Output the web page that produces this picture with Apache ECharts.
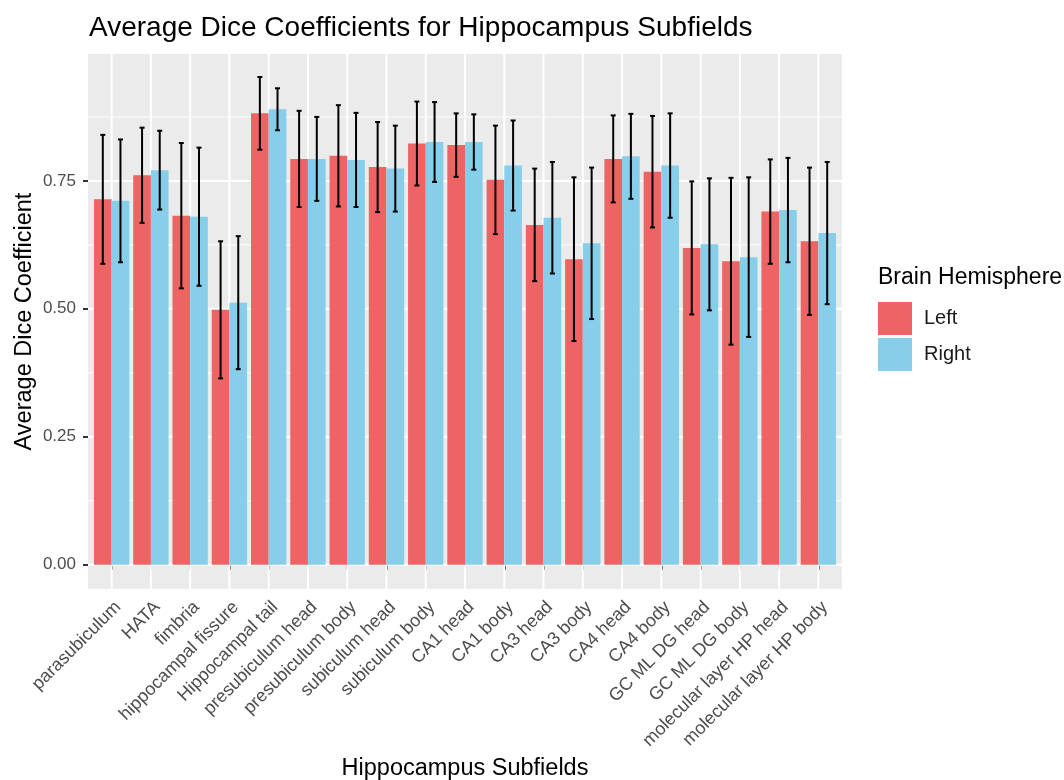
<!DOCTYPE html>
<html>
<head>
<meta charset="utf-8">
<script src="https://cdn.jsdelivr.net/npm/echarts@6/dist/echarts.min.js"></script>
<style>
  html, body { margin: 0; padding: 0; background: #ffffff; }
  #chart { width: 1064px; height: 780px; }
</style>
</head>
<body>
<div id="chart"></div>
<script>
// Hippocampal subfields, in plotting order
const categories = [
  'parasubiculum', 'HATA', 'fimbria', 'hippocampal fissure', 'Hippocampal tail',
  'presubiculum head', 'presubiculum body', 'subiculum head', 'subiculum body',
  'CA1 head', 'CA1 body', 'CA3 head', 'CA3 body', 'CA4 head', 'CA4 body',
  'GC ML DG head', 'GC ML DG body', 'molecular layer HP head', 'molecular layer HP body'
];

// Mean Dice coefficient per hemisphere
const leftMean  = [0.714, 0.761, 0.682, 0.498, 0.882, 0.793, 0.799, 0.777, 0.823, 0.820,
                   0.752, 0.664, 0.597, 0.793, 0.768, 0.619, 0.593, 0.690, 0.632];
const rightMean = [0.711, 0.771, 0.680, 0.512, 0.890, 0.793, 0.791, 0.774, 0.826, 0.826,
                   0.780, 0.678, 0.628, 0.798, 0.780, 0.626, 0.601, 0.693, 0.648];

// Standard deviations (error bars are mean ± sd)
const leftSd  = [0.126, 0.093, 0.142, 0.134, 0.071, 0.094, 0.099, 0.088, 0.082, 0.062,
                 0.106, 0.110, 0.160, 0.085, 0.109, 0.130, 0.163, 0.102, 0.144];
const rightSd = [0.120, 0.077, 0.135, 0.130, 0.041, 0.082, 0.092, 0.084, 0.078, 0.054,
                 0.088, 0.109, 0.148, 0.083, 0.102, 0.129, 0.156, 0.102, 0.139];

const yTicks = [0, 0.25, 0.5, 0.75];
const yMinorGrid = [0.125, 0.375, 0.625, 0.875];

const hemispheres = ['Left', 'Right'];
const colors = { Left: '#EE6363', Right: '#87CEEB' };

const FONT = '"Liberation Sans", Arial, Helvetica, sans-serif';

const chart = echarts.init(document.getElementById('chart'), null, { renderer: 'canvas' });

// ggplot-style discrete axis padding: 0.6 band on each side (category axis gives 0.5)
function extraPad(api) { return api.size([1, 0])[0] * 0.1; }

const panelSeries = {
  type: 'custom', name: 'panel', silent: true, clip: false, z: 0,
  data: [[0, 0]],
  encode: { x: 0, y: 1 },
  renderItem: function (params, api) {
    const cs = params.coordSys;
    const pad = extraPad(api);
    return { type: 'rect', shape: { x: cs.x - pad, y: cs.y, width: cs.width + 2 * pad, height: cs.height },
             style: { fill: '#EBEBEB' } };
  }
};

const hGridData = yTicks.map(v => [0, v, 1]).concat(yMinorGrid.map(v => [0, v, 0]));
const hGridSeries = {
  type: 'custom', name: 'hgrid', silent: true, clip: false, z: 1,
  data: hGridData,
  encode: { x: 0, y: 1 },
  renderItem: function (params, api) {
    const cs = params.coordSys;
    const pad = extraPad(api);
    const y = api.coord([0, api.value(1)])[1];
    const major = api.value(2) === 1;
    return { type: 'line', shape: { x1: cs.x - pad, y1: y, x2: cs.x + cs.width + pad, y2: y },
             style: { stroke: '#FFFFFF', lineWidth: major ? 2 : 1 } };
  }
};

const vGridSeries = {
  type: 'custom', name: 'vgrid', silent: true, clip: false, z: 1,
  data: categories.map((c, i) => [i, 0]),
  encode: { x: 0, y: 1 },
  renderItem: function (params, api) {
    const cs = params.coordSys;
    const x = api.coord([api.value(0), 0])[0];
    return { type: 'line', shape: { x1: x, y1: cs.y, x2: x, y2: cs.y + cs.height },
             style: { stroke: '#FFFFFF', lineWidth: 2 } };
  }
};

function barSeries(name, values) {
  return {
    type: 'bar', name: name, data: values, z: 2,
    barWidth: '45%', barGap: '0%',
    itemStyle: { color: colors[name] },
    emphasis: { disabled: true }
  };
}

function errorSeries(name, means, sds, side) {
  return {
    type: 'custom', name: name + ' sd', silent: true, z: 3,
    data: means.map((m, i) => [i, m - sds[i], m + sds[i]]),
    encode: { x: 0, y: [1, 2] },
    renderItem: function (params, api) {
      const band = api.size([1, 0])[0];
      const off = side * band * 0.45 / 2;
      const lo = api.coord([api.value(0), api.value(1)]);
      const hi = api.coord([api.value(0), api.value(2)]);
      const x = lo[0] + off;
      const cap = 2.5;
      const st = { stroke: '#000000', lineWidth: 2 };
      return {
        type: 'group',
        children: [
          { type: 'line', shape: { x1: x, y1: hi[1], x2: x, y2: lo[1] }, style: st },
          { type: 'line', shape: { x1: x - cap, y1: hi[1], x2: x + cap, y2: hi[1] }, style: st },
          { type: 'line', shape: { x1: x - cap, y1: lo[1], x2: x + cap, y2: lo[1] }, style: st }
        ]
      };
    }
  };
}

const option = {
  animation: false,
  backgroundColor: '#FFFFFF',
  textStyle: { fontFamily: FONT },
  title: {
    text: 'Average Dice Coefficients for Hippocampus Subfields',
    left: 84, top: 9,
    textStyle: { fontFamily: FONT, fontSize: 28, fontWeight: 'normal', color: '#000000' }
  },
  legend: {
    data: hemispheres,
    orient: 'vertical',
    left: 878, top: 302,
    padding: 0,
    itemWidth: 34, itemHeight: 33, itemGap: 3,
    icon: 'rect',
    selectedMode: false,
    textStyle: { fontFamily: FONT, fontSize: 20, color: '#1A1A1A', padding: [0, 0, 0, 7] }
  },
  graphic: [{
    type: 'text', left: 878, top: 266,
    style: { text: 'Brain Hemisphere', fontFamily: FONT, fontSize: 23, fill: '#000000' }
  }],
  grid: { left: 92, right: 226, top: 54, bottom: 191, containLabel: false, outerBoundsMode: 'none' },
  xAxis: {
    type: 'category',
    data: categories,
    name: 'Hippocampus Subfields',
    nameLocation: 'middle',
    nameGap: 168,
    nameMoveOverlap: false,
    nameTextStyle: { fontFamily: FONT, fontSize: 23.5, color: '#000000' },
    axisLine: { show: false },
    axisTick: { show: true, alignWithLabel: true, length: 5, lineStyle: { color: '#333333', width: 2 } },
    axisLabel: { rotate: 45, interval: 0, margin: 9, verticalAlign: 'top',
                 fontFamily: FONT, fontSize: 18, color: '#4D4D4D' },
    splitLine: { show: false }
  },
  yAxis: {
    type: 'value',
    min: -0.0476, max: 0.998,
    offset: 4,
    name: 'Average Dice Coefficient',
    nameLocation: 'middle',
    nameGap: 51,
    nameMoveOverlap: false,
    nameRotate: 90,
    nameTextStyle: { fontFamily: FONT, fontSize: 23.5, color: '#000000' },
    axisLine: { show: false },
    axisTick: { show: true, customValues: yTicks, length: 5, lineStyle: { color: '#333333', width: 2 } },
    axisLabel: { customValues: yTicks, margin: 12, fontFamily: FONT, fontSize: 17, color: '#4D4D4D',
                 formatter: v => v.toFixed(2) },
    splitLine: { show: false }
  },
  series: [
    panelSeries,
    hGridSeries,
    vGridSeries,
    barSeries('Left', leftMean),
    barSeries('Right', rightMean),
    errorSeries('Left', leftMean, leftSd, -1),
    errorSeries('Right', rightMean, rightSd, 1)
  ]
};

chart.setOption(option);
</script>
</body>
</html>
